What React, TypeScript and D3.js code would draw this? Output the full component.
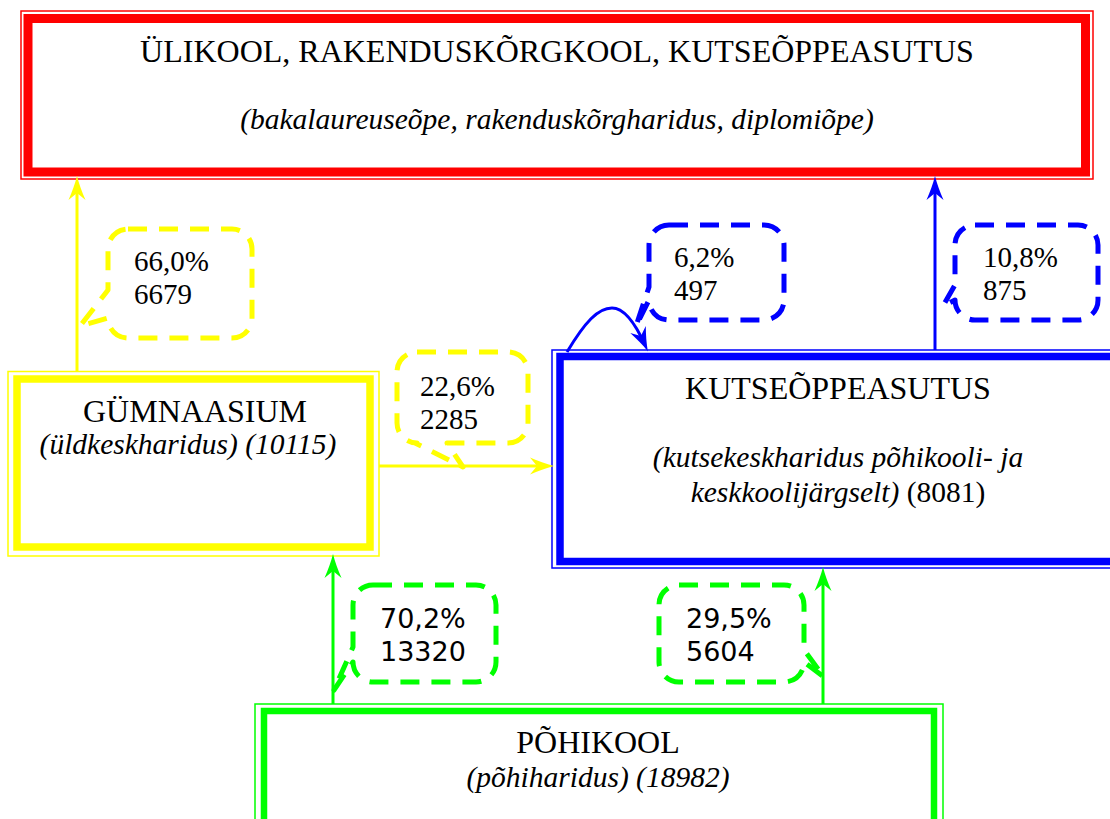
import React, { useEffect, useRef } from 'react';
import * as d3 from 'd3';

// school levels
const levelNames = ['ÜLIKOOL, RAKENDUSKÕRGKOOL, KUTSEÕPPEASUTUS', 'GÜMNAASIUM', 'KUTSEÕPPEASUTUS', 'PÕHIKOOL'];
const levelNotes = ['(bakalaureuseõpe, rakenduskõrgharidus, diplomiõpe)', '(üldkeskharidus)', '(kutsekeskharidus põhikooli- ja|keskkoolijärgselt)', '(põhiharidus)'];
const levelTotals = [null, 10115, 8081, 18982];

// flows between levels
const flowShares = [66.0, 22.6, 6.2, 10.8, 70.2, 29.5];
const flowCounts = [6679, 2285, 497, 875, 13320, 5604];

const RED = '#ff0000', YELLOW = '#ffff00', BLUE = '#0000ff', GREEN = '#00ff00';

const boxLayout = [
  { color: RED, outer: [21, 11, 1093, 179], band: [28, 18.5, 1085.5, 172], bw: 9, title: [557, 62], note: [557, 129] },
  { color: YELLOW, outer: [8, 371.5, 379, 556], band: [17, 379, 370, 547], bw: 7.5, title: [195, 422], note: [188, 454] },
  { color: BLUE, outer: [552, 350, 1124, 568], band: [560, 356.5, 1116, 561.5], bw: 7.5, title: [838, 399], note: [838, 467] },
  { color: GREEN, outer: [255, 704, 943, 840], band: [264, 711, 934, 830], bw: 6.5, title: [598, 753], note: [598, 787] },
];

// callout boxes: rect, tail side, tail base positions (clockwise order), tip
const calloutLayout = [
  { color: YELLOW, r: [108, 229, 252, 338], side: 'left', s: [318, 290], tip: [80, 326], text: [134, 271], sans: false },
  { color: YELLOW, r: [397, 352, 528, 443], side: 'bottom', s: [447, 415], tip: [463, 467], text: [420, 396], sans: false },
  { color: BLUE, r: [649, 225, 784, 320], side: 'left', s: [300, 287], tip: [636, 326], text: [674, 267], sans: false },
  { color: BLUE, r: [955, 225, 1098, 320], side: 'left', s: [300, 285], tip: [943, 306], text: [983, 267], sans: false },
  { color: GREEN, r: [353, 585, 496, 682], side: 'left', s: [662, 647], tip: [334, 690], text: [380, 628], sans: true },
  { color: GREEN, r: [659, 585, 804, 682], side: 'right', s: [650, 662], tip: [824, 677], text: [686, 628], sans: true },
];

// arrows: straight [x1,y1,x2,y2]
const arrowLayout = [
  { color: YELLOW, p: [77, 372, 77, 176] },
  { color: YELLOW, p: [379, 466, 554, 466] },
  { color: BLUE, p: [935, 350, 935, 176] },
  { color: GREEN, p: [333, 704, 333, 554] },
  { color: GREEN, p: [823, 704, 823, 567] },
];

const SERIF = '"Liberation Serif", "Times New Roman", serif';
const SANS = '"DejaVu Sans", sans-serif';

const calloutPath = (c: any) => {
  const [x0, y0, x1, y1] = c.r;
  const rr = 20;
  const p = d3.path();
  p.moveTo(x0 + rr, y0);
  p.lineTo(x1 - rr, y0);
  p.arcTo(x1, y0, x1, y0 + rr, rr);
  if (c.side === 'right') {
    p.lineTo(x1, c.s[0]);
    p.lineTo(c.tip[0], c.tip[1]);
    p.lineTo(x1, c.s[1]);
  }
  p.lineTo(x1, y1 - rr);
  p.arcTo(x1, y1, x1 - rr, y1, rr);
  if (c.side === 'bottom') {
    p.lineTo(c.s[0], y1);
    p.lineTo(c.tip[0], c.tip[1]);
    p.lineTo(c.s[1], y1);
  }
  p.lineTo(x0 + rr, y1);
  p.arcTo(x0, y1, x0, y1 - rr, rr);
  if (c.side === 'left') {
    p.lineTo(x0, c.s[0]);
    p.lineTo(c.tip[0], c.tip[1]);
    p.lineTo(x0, c.s[1]);
  }
  p.lineTo(x0, y0 + rr);
  p.arcTo(x0, y0, x0 + rr, y0, rr);
  p.closePath();
  return p.toString();
};

const fmtShare = (v: number) => d3.format('.1f')(v).replace('.', ',') + '%';

export default function App() {
  const ref = useRef<SVGSVGElement>(null);

  useEffect(() => {
    const svg = d3.select(ref.current);
    svg.selectAll('*').remove();

    const defs = svg.append('defs');
    [RED, YELLOW, BLUE, GREEN].forEach((col) => {
      defs.append('marker')
        .attr('id', 'head' + col.slice(1))
        .attr('markerUnits', 'userSpaceOnUse')
        .attr('viewBox', '-26 -10 28 20')
        .attr('refX', -7)
        .attr('refY', 0)
        .attr('markerWidth', 28)
        .attr('markerHeight', 20)
        .attr('orient', 'auto')
        .append('path')
        .attr('d', 'M0,0 C-8,-2 -16,-5 -24,-8.5 L-17,0 L-24,8.5 C-16,5 -8,2 0,0 Z')
        .attr('fill', col);
    });

    // boxes
    boxLayout.forEach((b) => {
      const [ox0, oy0, ox1, oy1] = b.outer;
      const [bx0, by0, bx1, by1] = b.band;
      svg.append('rect')
        .attr('x', ox0).attr('y', oy0).attr('width', ox1 - ox0).attr('height', oy1 - oy0)
        .attr('fill', 'white').attr('stroke', b.color).attr('stroke-width', 1.5);
      svg.append('rect')
        .attr('x', bx0).attr('y', by0).attr('width', bx1 - bx0).attr('height', by1 - by0)
        .attr('fill', 'none').attr('stroke', b.color).attr('stroke-width', b.bw);
    });

    // straight arrows
    arrowLayout.forEach((a) => {
      const [x1, y1, x2, y2] = a.p;
      const len = Math.hypot(x2 - x1, y2 - y1);
      const ux = (x2 - x1) / len, uy = (y2 - y1) / len;
      svg.append('line')
        .attr('x1', x1).attr('y1', y1)
        .attr('x2', x2 - ux * 7).attr('y2', y2 - uy * 7)
        .attr('stroke', a.color).attr('stroke-width', 3)
        .attr('marker-end', `url(#head${a.color.slice(1)})`);
    });

    // loop arrow on vocational box
    svg.append('path')
      .attr('d', 'M567,352 C585,322 598,308 612,308 C625,308 636,325 645,345')
      .attr('fill', 'none').attr('stroke', BLUE).attr('stroke-width', 3)
      .attr('marker-end', `url(#head${BLUE.slice(1)})`);

    // callouts
    calloutLayout.forEach((c, i) => {
      svg.append('path')
        .attr('d', calloutPath(c))
        .attr('fill', 'none').attr('stroke', c.color).attr('stroke-width', 5)
        .attr('stroke-dasharray', '19 12').attr('stroke-linejoin', 'round');
      const t = svg.append('text')
        .attr('font-family', c.sans ? SANS : SERIF)
        .attr('font-size', c.sans ? 27 : 29)
        .attr('fill', 'black');
      t.append('tspan').attr('x', c.text[0]).attr('y', c.text[1]).text(fmtShare(flowShares[i]));
      t.append('tspan').attr('x', c.text[0]).attr('y', c.text[1] + 33).text(String(flowCounts[i]));
    });

    // box labels
    boxLayout.forEach((b, i) => {
      svg.append('text')
        .attr('x', b.title[0]).attr('y', b.title[1])
        .attr('text-anchor', 'middle')
        .attr('font-family', SERIF).attr('font-size', 32)
        .text(levelNames[i]);
      const lines = levelNotes[i].split('|');
      lines.forEach((ln, j) => {
        const last = j === lines.length - 1;
        const t = svg.append('text')
          .attr('x', b.note[0]).attr('y', b.note[1] + j * 35)
          .attr('text-anchor', 'middle')
          .attr('font-family', SERIF).attr('font-size', 29.5);
        t.append('tspan').attr('font-style', 'italic').text(ln);
        const tot = levelTotals[i];
        if (last && tot != null) {
          // the vocational total is set upright, the others italic
          t.append('tspan').attr('font-style', i === 2 ? 'normal' : 'italic').text(` (${tot})`);
        }
      });
    });
  }, []);

  return (
    <svg ref={ref} width={1110} height={819}
      style={{ position: 'absolute', left: 0, top: 0, background: 'white' }} />
  );
}
